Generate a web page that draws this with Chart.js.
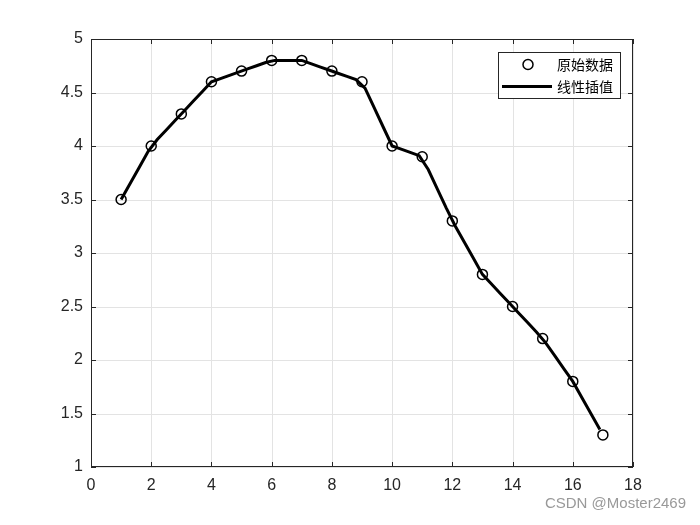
<!DOCTYPE html>
<html>
<head>
<meta charset="utf-8">
<script src="https://cdn.jsdelivr.net/npm/chart.js@4"></script>
<style>
  html, body { margin: 0; padding: 0; background: #fff; }
  #wrap { width: 700px; height: 525px; }
</style>
</head>
<body>
<div id="wrap"><canvas id="interpChart" width="700" height="525"></canvas></div>
<script>
// 原始数据
const xData = [1, 2, 3, 4, 5, 6, 7, 8, 9, 10, 11, 12, 13, 14, 15, 16, 17];
const yData = [3.5, 4.0, 4.3, 4.6, 4.7, 4.8, 4.8, 4.7, 4.6, 4.0, 3.9, 3.3, 2.8, 2.5, 2.2, 1.8, 1.3];

// 线性插值 (grid step 0.3)
const xInterp = [1.0, 1.3, 1.6, 1.9, 2.2, 2.5, 2.8, 3.1, 3.4, 3.7, 4.0, 4.3, 4.6, 4.9,
  5.2, 5.5, 5.8, 6.1, 6.4, 6.7, 7.0, 7.3, 7.6, 7.9, 8.2, 8.5, 8.8, 9.1, 9.4, 9.7,
  10.0, 10.3, 10.6, 10.9, 11.2, 11.5, 11.8, 12.1, 12.4, 12.7, 13.0, 13.3, 13.6, 13.9,
  14.2, 14.5, 14.8, 15.1, 15.4, 15.7, 16.0, 16.3, 16.6, 16.9];
const yInterp = [3.5, 3.65, 3.8, 3.95, 4.06, 4.15, 4.24, 4.33, 4.42, 4.51, 4.6, 4.63, 4.66, 4.69,
  4.72, 4.75, 4.78, 4.8, 4.8, 4.8, 4.8, 4.77, 4.74, 4.71, 4.68, 4.65, 4.62, 4.54, 4.36, 4.18,
  4.0, 3.97, 3.94, 3.91, 3.78, 3.6, 3.42, 3.25, 3.1, 2.95, 2.8, 2.71, 2.62, 2.53,
  2.44, 2.35, 2.26, 2.16, 2.04, 1.92, 1.8, 1.65, 1.5, 1.35];

const seriesLabels = ['原始数据', '线性插值'];
const watermark = 'CSDN @Moster2469';

const axisColor = '#262626';
const gridColor = '#e3e3e3';
const tickFont = { family: 'Liberation Sans, Arial, sans-serif', size: 16 };
const cjkFont = '"Noto Sans CJK SC", sans-serif';

// grid, box, inner ticks, legend and watermark (MATLAB look)
const matlabLook = {
  id: 'matlabLook',
  beforeDatasetsDraw(chart) {
    const ctx = chart.ctx;
    const a = chart.chartArea;
    const xs = chart.scales.x, ys = chart.scales.y;
    ctx.save();
    ctx.strokeStyle = gridColor;
    ctx.lineWidth = 1;
    ctx.beginPath();
    xs.ticks.forEach(t => {
      const px = Math.round(xs.getPixelForValue(t.value)) + 0.5;
      ctx.moveTo(px, a.top); ctx.lineTo(px, a.bottom);
    });
    ys.ticks.forEach(t => {
      const py = Math.round(ys.getPixelForValue(t.value)) + 0.5;
      ctx.moveTo(a.left, py); ctx.lineTo(a.right, py);
    });
    ctx.stroke();
    ctx.restore();
  },
  afterDraw(chart) {
    const ctx = chart.ctx;
    const a = chart.chartArea;
    const xs = chart.scales.x, ys = chart.scales.y;
    ctx.save();
    ctx.strokeStyle = axisColor;
    ctx.lineWidth = 1;
    ctx.strokeRect(a.left + 0.5, a.top + 0.5, a.right - a.left - 1, a.bottom - a.top - 1);

    ctx.beginPath();
    xs.ticks.forEach(t => {
      const px = Math.round(xs.getPixelForValue(t.value)) + 0.5;
      ctx.moveTo(px, a.bottom); ctx.lineTo(px, a.bottom - 5);
      ctx.moveTo(px, a.top); ctx.lineTo(px, a.top + 5);
    });
    ys.ticks.forEach(t => {
      const py = Math.round(ys.getPixelForValue(t.value)) + 0.5;
      ctx.moveTo(a.left, py); ctx.lineTo(a.left + 5, py);
      ctx.moveTo(a.right, py); ctx.lineTo(a.right - 5, py);
    });
    ctx.stroke();

    // legend
    const lx = 498.5, ly = 52.5, lw = 122, lh = 46;
    ctx.fillStyle = '#fff';
    ctx.fillRect(lx, ly, lw, lh);
    ctx.strokeStyle = '#262626';
    ctx.strokeRect(lx, ly, lw, lh);
    ctx.strokeStyle = '#000';
    ctx.lineWidth = 1.5;
    ctx.beginPath();
    ctx.arc(528, 64.5, 5, 0, Math.PI * 2);
    ctx.stroke();
    ctx.lineWidth = 3;
    ctx.beginPath();
    ctx.moveTo(502, 86.5); ctx.lineTo(552, 86.5);
    ctx.stroke();
    ctx.fillStyle = '#000';
    ctx.font = '14px ' + cjkFont;
    ctx.textBaseline = 'middle';
    ctx.textAlign = 'left';
    ctx.fillText(seriesLabels[0], 557, 65);
    ctx.fillText(seriesLabels[1], 557, 87);

    ctx.fillStyle = '#999';
    ctx.font = '15px "Liberation Sans", Arial, sans-serif';
    ctx.textAlign = 'right';
    ctx.fillText(watermark, 686, 504);
    ctx.restore();
  }
};

new Chart(document.getElementById('interpChart'), {
  type: 'scatter',
  data: {
    datasets: [
      {
        label: seriesLabels[0],
        data: xData.map((x, i) => ({ x: x, y: yData[i] })),
        showLine: false,
        pointStyle: 'circle',
        pointRadius: 5,
        pointBorderWidth: 1.5,
        pointBorderColor: '#000',
        pointBackgroundColor: 'rgba(0,0,0,0)',
        order: 1
      },
      {
        label: seriesLabels[1],
        data: xInterp.map((x, i) => ({ x: x, y: yInterp[i] })),
        showLine: true,
        borderColor: '#000',
        borderWidth: 3,
        pointRadius: 0,
        tension: 0,
        order: 0
      }
    ]
  },
  options: {
    responsive: false,
    animation: false,
    layout: { padding: { left: 0, top: 39, right: 67, bottom: 0 } },
    plugins: {
      legend: { display: false },
      tooltip: { enabled: false }
    },
    scales: {
      x: {
        type: 'linear',
        min: 0, max: 18,
        ticks: { stepSize: 2, color: axisColor, font: tickFont, padding: 9 },
        grid: { display: false, drawTicks: false },
        border: { display: false },
        afterFit: s => { s.height = 58; }
      },
      y: {
        type: 'linear',
        min: 1, max: 5,
        ticks: {
          stepSize: 0.5, color: axisColor, font: tickFont, padding: 8,
          callback: v => String(Math.round(v * 10) / 10)
        },
        grid: { display: false, drawTicks: false },
        border: { display: false },
        afterFit: s => { s.width = 91; }
      }
    }
  },
  plugins: [matlabLook]
});
</script>
</body>
</html>
